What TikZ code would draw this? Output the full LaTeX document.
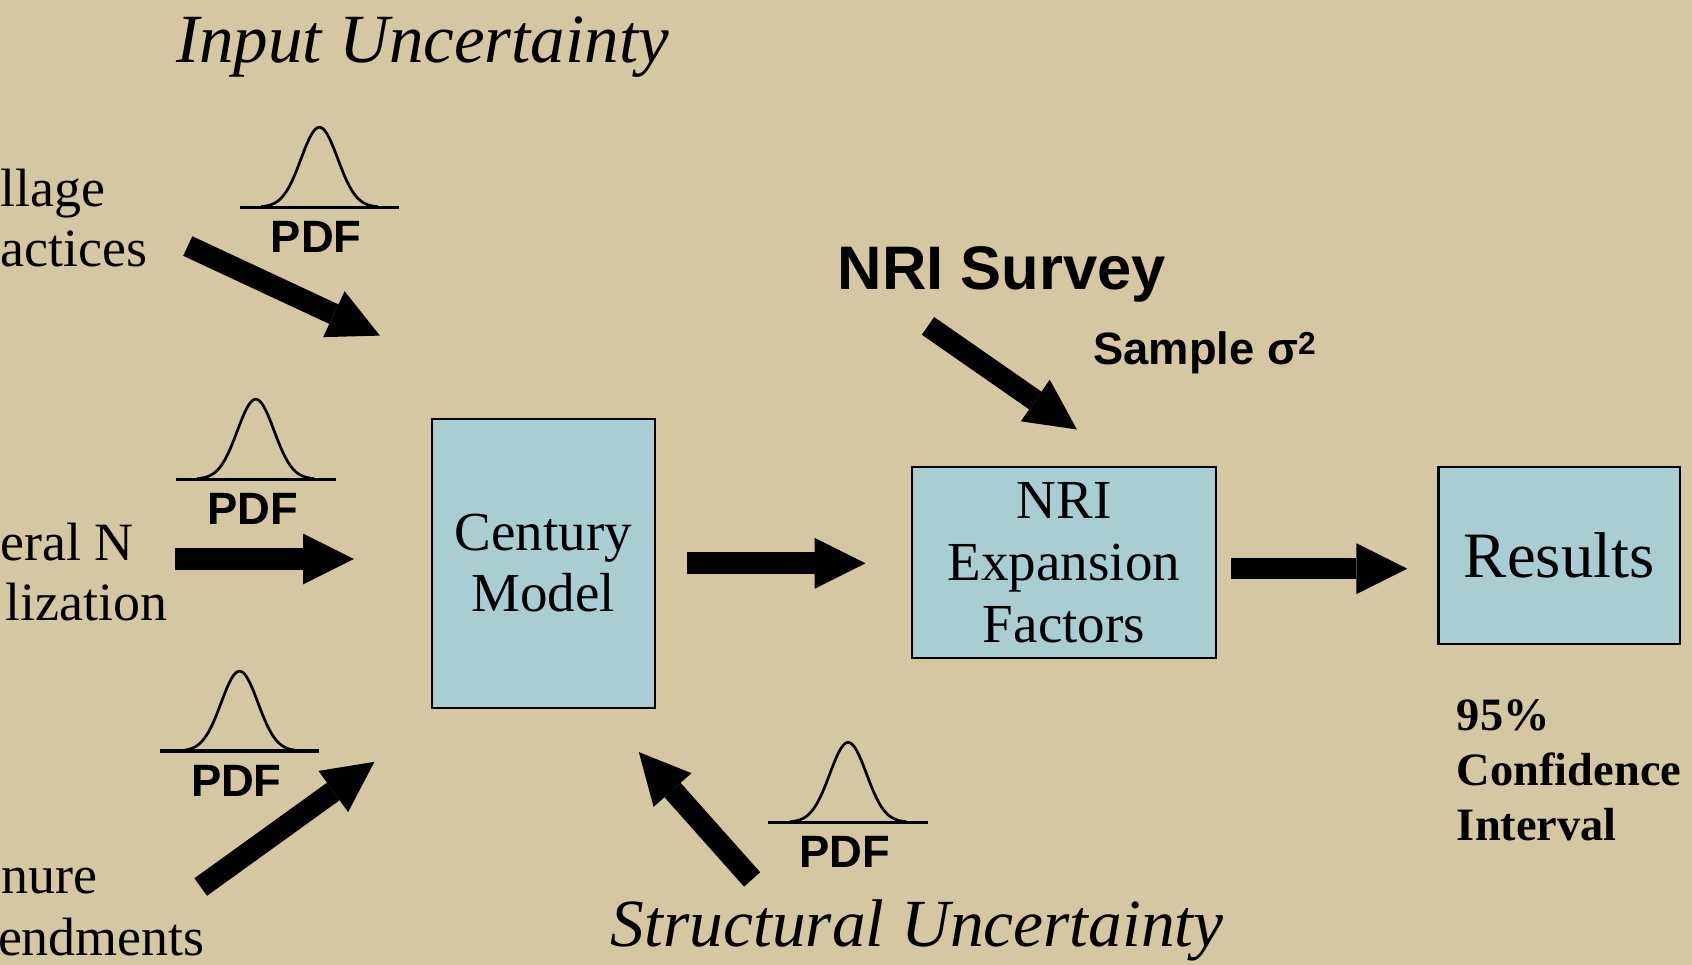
\documentclass[tikz,border=0pt]{standalone}
\usepackage{fontspec}
\setmainfont{Liberation Serif}
\newfontfamily\arialfont{Liberation Sans}
\usetikzlibrary{arrows.meta}
\definecolor{parch}{RGB}{214,199,163}
\definecolor{boxblue}{RGB}{168,206,212}
\tikzset{
  bigarrow/.style={line width=20pt, -{Triangle[length=47pt,width=47pt,line width=0pt]}},
  box/.style={draw=black, line width=2pt, fill=boxblue, inner sep=0pt, align=center,
    font=\fontsize{51}{57}\selectfont},
  lbl/.style={inner sep=0pt, font=\fontsize{50}{56}\selectfont, anchor=base east},
  lblw/.style={inner sep=0pt, font=\fontsize{50}{56}\selectfont, anchor=base west},
  ttl/.style={inner sep=0pt, font=\fontsize{#1}{70}\selectfont\itshape, anchor=base west},
  pdftext/.style={inner sep=0pt, font={\arialfont\bfseries\fontsize{42}{46}\selectfont}, anchor=base},
  sanslbl/.style={inner sep=0pt, font={\arialfont\bfseries\fontsize{#1}{#1}\selectfont}, anchor=base west},
  pdfcurve/.pic={
    \draw[line width=3pt] (-74,0) -- (74,0);
    \draw[line width=2.5pt] plot[domain=-54:54, samples=80, smooth] (\x,{-74*exp(-(\x)^2/(2*17^2))});
    \node[pdftext] (-t) at (-3,42) {PDF};
  }
}
\begin{document}
\begin{tikzpicture}[x=1pt,y=-1pt]
\fill[parch] (0,0) rectangle (1568,894);
\useasboundingbox (0,0) rectangle (1568,894);

% titles
\node[ttl=64] (inunc) at (163,58) {Input Uncertainty};
\node[ttl=62.5] (strunc) at (566,877) {Structural Uncertainty};

% left labels (cut off at the left edge in the reference)
\node[lblw] (l1a) at (0,191) {llage};
\node[lblw] (l1b) at (0,247) {actices};
\node[lblw] (l2a) at (0,519) {eral N};
\node[lbl] (l2b) at (155,575) {lization};
\node[lblw] (l3a) at (1,828) {nure};
\node[lbl] (l3b) at (190,885) {endments};

% PDF curves
\pic (pdf1) at (296,192) {pdfcurve};
\pic (pdf2) at (237,444) {pdfcurve};
\pic (pdf3) at (222,696) {pdfcurve};
\pic (pdf4) at (786,762) {pdfcurve};

% boxes
\node[box, minimum width=207pt, minimum height=268pt] (century) at (503.5,522) {Century\\Model};
\node[box, minimum width=282pt, minimum height=177pt] (nri) at (986,521.5) {NRI\\Expansion\\Factors};
\node[box, minimum width=224pt, minimum height=164pt, font=\fontsize{60}{66}\selectfont] (results) at (1445,515) {Results};

% NRI survey labels
\node[sanslbl=57] (survey) at (776,268) {NRI Survey};
\node[sanslbl=42] (sample) at (1013,338) {Sample σ\textsuperscript{2}};

% confidence interval
\node[inner sep=0pt, anchor=north west, align=left, font=\bfseries\fontsize{43}{51}\selectfont] (conf) at (1350,648) {95\%\\Confidence\\Interval};

% arrow end points
\coordinate (a1s) at (174,228); \coordinate (a1e) at (352,311);
\coordinate (a2s) at (162,518); \coordinate (a2e) at (328,518);
\coordinate (a3s) at (186,822); \coordinate (a3e) at (347,706);
\coordinate (a6s) at (860,302); \coordinate (a6e) at (998,398);
\coordinate (a7s) at (697,815); \coordinate (a7e) at (592,697);

\draw[bigarrow] (a1s) -- (a1e);
\draw[bigarrow] (a2s) -- (a2e);
\draw[bigarrow] (a3s) -- (a3e);
\draw[bigarrow] (a6s) -- (a6e);
\draw[bigarrow] (a7s) -- (a7e);
\draw[bigarrow] ([xshift=29pt]century.east) -- ([xshift=-42pt]century.east -| nri.west);
\draw[bigarrow] ([xshift=13pt,yshift=-5.5pt]nri.east) -- ([xshift=-28pt,yshift=-5.5pt]nri.east -| results.west);
\end{tikzpicture}
\end{document}
